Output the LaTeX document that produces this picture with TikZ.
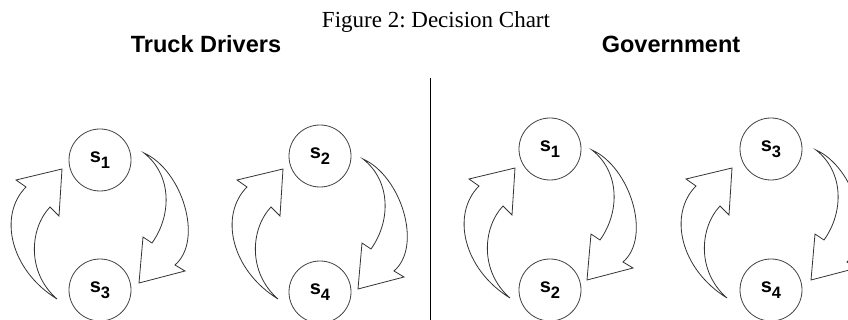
\documentclass[tikz,border=0pt]{standalone}
\usepackage{fontspec}
\setmainfont{Liberation Serif}
\setsansfont{Liberation Sans}
\usepackage{tikz}
\frenchspacing

\newcommand{\stlabel}[2]{\sffamily\bfseries\fontsize{20}{20}\selectfont #1\raisebox{-6pt}{\fontsize{16.5}{16.5}\selectfont #2}}

\begin{document}
\begin{tikzpicture}[x=1pt,y=-1pt,
  stnode/.style={draw=black!75,line width=0.8pt,circle,minimum size=62pt,inner sep=0pt},
  bendarrow/.style={draw=black!80,line width=0.8pt},
  heading/.style={font=\sffamily\bfseries\fontsize{23.5}{28}\selectfont,anchor=base}]

\clip (0,0) rectangle (848,320);

\node[anchor=base,font=\fontsize{23}{28}\selectfont] (title) at (436,28) {Figure 2: Decision Chart};
\node[heading] (truck) at (206,53) {Truck Drivers};
\node[heading] (gov) at (671,53) {Government};

% divider
\draw[line width=1pt] (430,78) -- (430,320);

% truck drivers
\node[stnode] (tdSone) at (100,160) {\stlabel{s}{1}};
\node[stnode] (tdSthree) at (100,290) {\stlabel{s}{3}};
\node[stnode] (tdStwo) at (320,156) {\stlabel{s}{2}};
\node[stnode] (tdSfour) at (320,292) {\stlabel{s}{4}};

% government
\node[stnode] (gvSone) at (550,149) {\stlabel{s}{1}};
\node[stnode] (gvStwo) at (550,290) {\stlabel{s}{2}};
\node[stnode] (gvSthree) at (771,149) {\stlabel{s}{3}};
\node[stnode] (gvSfour) at (771,290) {\stlabel{s}{4}};

% curved arrows, going up
\foreach \dx/\dy in {0/0, 221/0, 453/-1, 670/-1}{
  \draw[bendarrow,shift={(\dx,\dy)}] (57,299) .. controls (10,270) and (-2,215) .. (26,187)
    -- (16,180) -- (62,169) -- (59,216) -- (50,207) .. controls (30,228) and (26,272) .. cycle;
}

% curved arrows, going down
\foreach \dx/\dy in {0/0, 219/6, 448/-3, 672/-3}{
  \draw[bendarrow,shift={(\dx,\dy)}] (144,153) .. controls (182,170) and (204,240) .. (175,265)
    -- (185,271) -- (139,283) -- (143,237) -- (152,243) .. controls (172,215) and (172,175) .. cycle;
}

\end{tikzpicture}
\end{document}
